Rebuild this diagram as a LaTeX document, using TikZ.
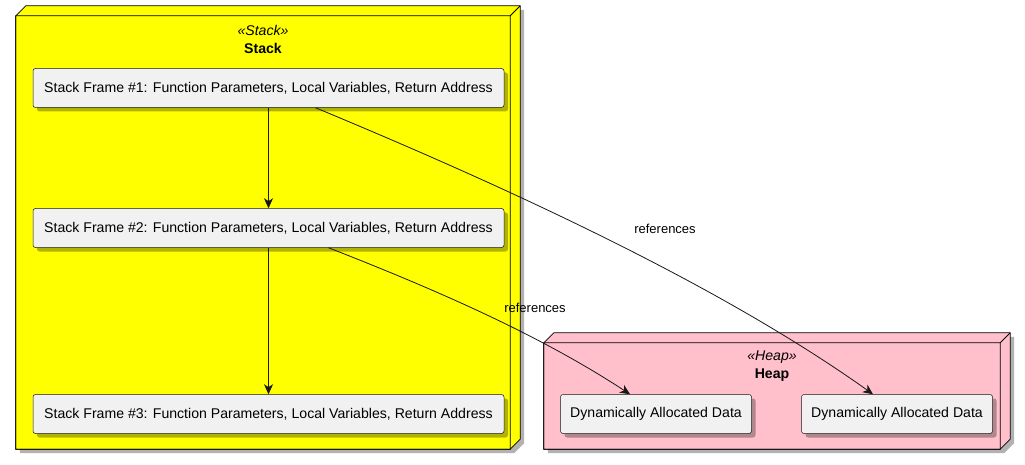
\documentclass[tikz,border=0pt]{standalone}
\usepackage{fontspec}
\setmainfont{Liberation Sans}
\usepackage{xcolor}
\usetikzlibrary{shapes,arrows,positioning,calc,shadows,arrows.meta}
\definecolor{boxgray}{HTML}{F1F1F1}
\definecolor{linegray}{HTML}{181818}
\definecolor{heappink}{HTML}{FFC0CB}
\definecolor{stackyellow}{HTML}{FFFF00}

\begin{document}
\begin{tikzpicture}[x=1pt, y=-1pt, font=\fontsize{14.1}{16}\selectfont,
    stackframe/.style={draw=linegray, line width=0.5pt, fill=boxgray, rounded corners=2.5pt,
        minimum width=471pt, minimum height=39pt, inner sep=0pt,
        drop shadow={shadow xshift=4pt, shadow yshift=-4pt, fill=black, opacity=0.3}},
    heapdata/.style={stackframe, minimum width=191pt},
    memshadow/.style={draw=black, line width=0.8pt, drop shadow={shadow xshift=4pt, shadow yshift=-4pt, fill=black, opacity=0.3}},
    link/.style={draw=linegray, line width=0.8pt, -{Stealth[length=10pt,width=9pt,inset=3pt]}},
    linktext/.style={font=\fontsize{13}{15}\selectfont}]
    \useasboundingbox (0,0) rectangle (1025,465);

    % containers
    \node [minimum width=494pt, minimum height=433pt, inner sep=0pt] (stack) at (263,232.5) {};
    \node [minimum width=456pt, minimum height=106pt, inner sep=0pt] (heap) at (772,396) {};
    \path [memshadow, fill=stackyellow] (stack.south west) -- (stack.north west) -- ++(10,-10)
        -- ([shift={(10,-10)}]stack.north east) -- ([shift={(10,-10)}]stack.south east) -- (stack.south east) -- cycle;
    \draw [line width=0.8pt] (stack.north west) rectangle (stack.south east) (stack.north east) -- ++(10,-10);
    \path [memshadow, fill=heappink] (heap.south west) -- (heap.north west) -- ++(10,-10)
        -- ([shift={(10,-10)}]heap.north east) -- ([shift={(10,-10)}]heap.south east) -- (heap.south east) -- cycle;
    \draw [line width=0.8pt] (heap.north west) rectangle (heap.south east) (heap.north east) -- ++(10,-10);
    \node (stackst) at (263,30) {\textit{«Stack»}};
    \node (stackname) at (263,48.5) {\textbf{Stack}};
    \node (heapst) at (772,357) {\textit{«Heap»}};
    \node (heapname) at (772,375) {\textbf{Heap}};

    % frames and data
    \node [stackframe] (frame1) at (268.5,88) {Stack Frame \#1: Function Parameters, Local Variables, Return Address};
    \node [stackframe] (frame2) at (268.5,228) {Stack Frame \#2: Function Parameters, Local Variables, Return Address};
    \node [stackframe] (frame3) at (268.5,414) {Stack Frame \#3: Function Parameters, Local Variables, Return Address};
    \node [heapdata] (dataA) at (656,414) {Dynamically Allocated Data};
    \node [heapdata] (dataB) at (897,414) {Dynamically Allocated Data};

    % arrows
    \draw [link] (frame1) -- (frame2);
    \draw [link] (frame2) -- (frame3);
    \draw [link] ([xshift=47pt]frame1.south) .. controls +(200,83) and +(-150,-107) .. ([xshift=-24pt]dataB.north);
    \draw [link] ([xshift=60pt]frame2.south) .. controls +(110,43) and +(-90,-59) .. ([xshift=-26pt]dataA.north);
    \node [linktext] (ref1) at (665,229) {references};
    \node [linktext] (ref2) at (535,308) {references};
\end{tikzpicture}
\end{document}
